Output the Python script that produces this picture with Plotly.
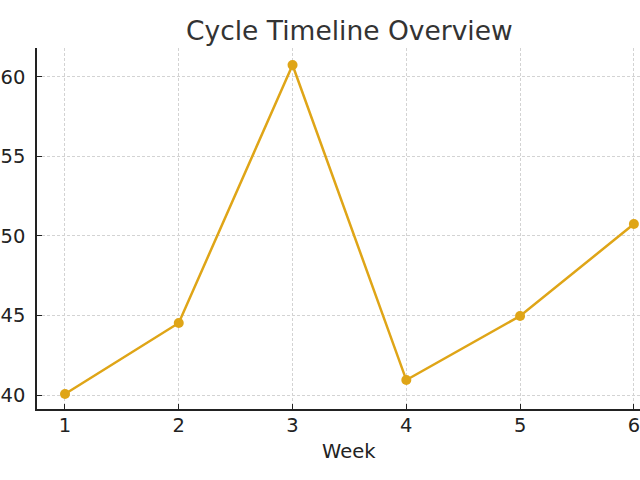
import plotly.graph_objects as go

weeks = [1, 2, 3, 4, 5, 6]
values = [40.06, 44.53, 60.75, 40.94, 44.97, 50.75]
y_ticks = [40, 45, 50, 55, 60]

W, H = 640, 480
L, T, R = 37, 48, 0
B = H - 409
x_range = [0.754, 6.054]
y_range = [39.12, 61.82]

fig = go.Figure()
fig.add_trace(go.Scatter(
    x=weeks, y=values, mode="lines+markers",
    line=dict(color="#DFA517", width=2.5),
    marker=dict(color="#DFA517", size=10),
    cliponaxis=False, showlegend=False, hoverinfo="skip",
))

font = "DejaVu Sans, sans-serif"
fig.update_layout(
    width=W, height=H,
    margin=dict(l=L, r=R, t=T, b=B, autoexpand=False),
    paper_bgcolor="white", plot_bgcolor="white",
    font=dict(family=font, color="#222222", size=19),
    showlegend=False,
)
common = dict(
    showgrid=True, gridcolor="#d3d3d3", griddash="3px,2px", gridwidth=1,
    showline=True, linecolor="#222222", linewidth=1.5,
    ticks="inside", ticklen=5, tickcolor="#222222",
    tickfont=dict(size=19.5, color="#222222", family=font), zeroline=False,
    automargin=False, ticklabeloverflow="allow",
)
fig.update_xaxes(range=x_range, tickmode="array", tickvals=weeks, ticklabelstandoff=-2, **common)
fig.update_yaxes(range=y_range, tickmode="array", tickvals=y_ticks, ticklabelstandoff=6, **common)

pw = W - L - R
ph = H - T - B
cx = (349 - L) / pw
fig.add_annotation(text="Cycle Timeline Overview", xref="paper", yref="paper",
                   x=cx, y=1 + (48 - 30) / ph, xanchor="center", yanchor="middle",
                   showarrow=False, font=dict(size=26.5, color="#333333", family=font))
fig.add_annotation(text="Week", xref="paper", yref="paper",
                   x=cx, y=-(451 - 409) / ph, xanchor="center", yanchor="middle",
                   showarrow=False, font=dict(size=19.5, color="#222222", family=font))

fig.write_html(
    "out.html",
    config={"displayModeBar": False},
    post_script="document.body.style.margin='0';document.body.style.overflow='hidden';",
)
